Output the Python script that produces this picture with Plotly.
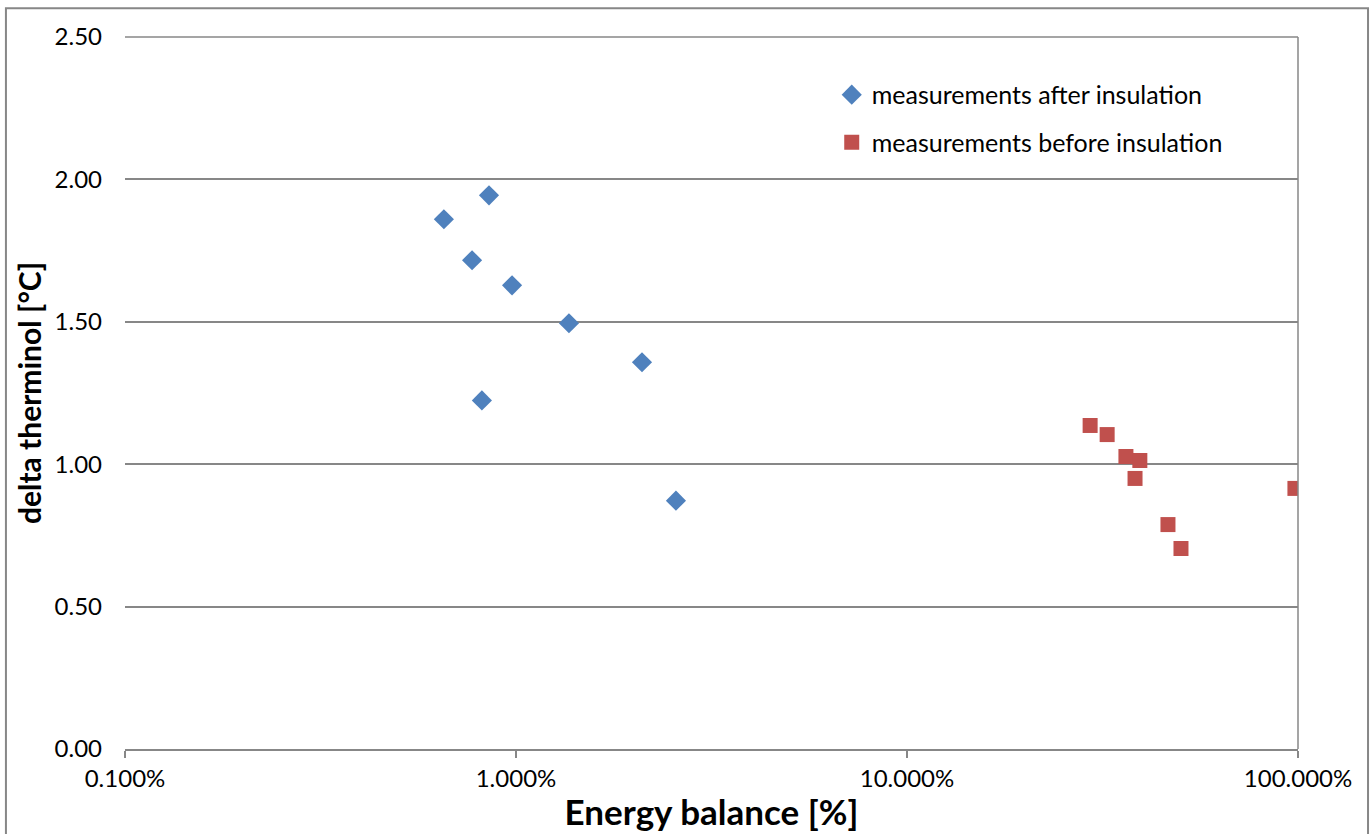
import plotly.graph_objects as go

# Data (energy balance in percent, delta therminol in °C)
after_x = [0.654, 0.853, 0.772, 0.977, 1.366, 2.10, 0.818, 2.565]
after_y = [1.860, 1.944, 1.716, 1.628, 1.495, 1.358, 1.224, 0.872]

before_x = [29.4, 32.5, 36.3, 39.4, 38.3, 46.5, 50.2, 98.2]
before_y = [1.136, 1.104, 1.027, 1.013, 0.950, 0.788, 0.704, 0.915]

x_tickvals = [0.1, 1, 10, 100]
x_ticktext = ["0.100%", "1.000%", "10.000%", "100.000%"]
y_tickvals = [0, 0.5, 1.0, 1.5, 2.0, 2.5]
y_ticktext = ["0.00", "0.50", "1.00", "1.50", "2.00", "2.50"]

FONT = "Lato, 'Open Sans', sans-serif"
GRID = "#878787"

fig = go.Figure()
fig.add_trace(go.Scatter(
    x=after_x, y=after_y, mode="markers", name="measurements after insulation",
    legendgroup="a",
    marker=dict(symbol="diamond", size=15.5, color="#4F81BD"),
))
fig.add_trace(go.Scatter(
    x=before_x, y=before_y, mode="markers", name="measurements before insulation",
    legendgroup="b",
    marker=dict(symbol="square", size=15, color="#C0504D"),
))

fig.update_layout(
    width=1370, height=834,
    margin=dict(l=125, r=72, t=37, b=85),
    paper_bgcolor="white", plot_bgcolor="white",
    font=dict(family=FONT, size=24, color="black"),
    showlegend=True,
    legend=dict(
        x=0.6025, y=0.951, xanchor="left", yanchor="top",
        font=dict(size=25), bgcolor="rgba(0,0,0,0)",
        traceorder="grouped", tracegroupgap=12, itemwidth=30,
    ),
    xaxis=dict(
        type="log", range=[-1, 2], automargin=False,
        tickvals=x_tickvals, ticktext=x_ticktext,
        showgrid=False, zeroline=False,
        showline=True, linecolor=GRID, linewidth=1.5,
        ticks="outside", ticklen=7, tickcolor=GRID, tickwidth=1.5,
        tickfont=dict(size=24),
        title=dict(text="<b>Energy balance [%]</b>", font=dict(size=35), standoff=10),
    ),
    yaxis=dict(
        range=[0, 2.5], automargin=False,
        tickvals=y_tickvals, ticktext=y_ticktext,
        showgrid=True, gridcolor=GRID, gridwidth=1.5,
        zeroline=False, showline=False,
        ticks="", ticklabelstandoff=22,
        tickfont=dict(size=24),
        title=dict(text="<b>delta therminol [°C]</b>", font=dict(size=30), standoff=4),
    ),
    shapes=[
        dict(type="line", xref="paper", yref="paper", x0=1, x1=1, y0=0, y1=1,
             line=dict(color=GRID, width=1.5)),
        dict(type="line", xref="paper", yref="paper", x0=0, x1=1, y0=1, y1=1,
             line=dict(color=GRID, width=1.5)),
        dict(type="rect", xref="paper", yref="paper",
             x0=-0.1015, x1=1.0597, y0=-0.2, y1=1.0405,
             line=dict(color=GRID, width=2), layer="below"),
    ],
)

fig.write_html("out.html")
